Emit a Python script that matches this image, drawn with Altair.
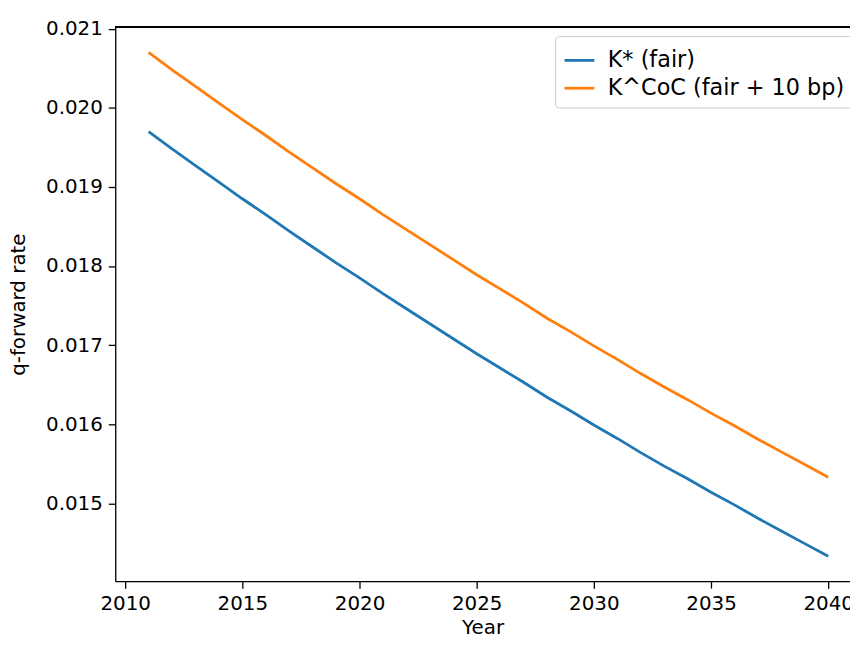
import altair as alt
import pandas as pd

years = list(range(2011, 2041))
k_fair = [0.01970, 0.01948, 0.01927, 0.01906, 0.01885, 0.01865, 0.01844, 0.01824,
          0.01804, 0.01785, 0.01765, 0.01746, 0.01727, 0.01708, 0.01689, 0.01671,
          0.01653, 0.01634, 0.01617, 0.01599, 0.01582, 0.01564, 0.01547, 0.01531,
          0.01514, 0.01498, 0.01481, 0.01465, 0.01449, 0.01433]
k_coc = [0.02070, 0.02048, 0.02027, 0.02006, 0.01985, 0.01965, 0.01944, 0.01924,
         0.01904, 0.01885, 0.01865, 0.01846, 0.01827, 0.01808, 0.01789, 0.01771,
         0.01753, 0.01734, 0.01717, 0.01699, 0.01682, 0.01664, 0.01647, 0.01631,
         0.01614, 0.01598, 0.01581, 0.01565, 0.01549, 0.01533]
series_names = ["K* (fair)", "K^CoC (fair + 10 bp)"]
series_colors = ["#1f77b4", "#ff7f0e"]
x_ticks = [2010, 2015, 2020, 2025, 2030, 2035, 2040]
y_ticks = [0.015, 0.016, 0.017, 0.018, 0.019, 0.020, 0.021]

df = pd.DataFrame({
    "Year": years * 2,
    "rate": k_fair + k_coc,
    "series": [series_names[0]] * len(years) + [series_names[1]] * len(years),
})

W, H = 740, 558
FONT = "DejaVu Sans"
FS = 20

lines = alt.Chart(df).mark_line(strokeWidth=2.8, clip=True).encode(
    x=alt.X("Year:Q",
            scale=alt.Scale(domain=[2009.576, 2040.93], nice=False, zero=False),
            axis=alt.Axis(values=x_ticks, format="d", title="Year", grid=False,
                          tickSize=7, tickWidth=1.3, domainWidth=1.3,
                          domainColor="black", tickColor="black",
                          labelFontSize=FS, titleFontSize=FS, labelFont=FONT, titleFont=FONT,
                          labelColor="black", titleColor="black", titleFontWeight="normal",
                          labelPadding=6, titlePadding=4)),
    y=alt.Y("rate:Q",
            scale=alt.Scale(domain=[0.014015, 0.02102], nice=False, zero=False),
            axis=alt.Axis(values=y_ticks, format=".3f", title="q-forward rate", grid=False,
                          tickSize=7, tickWidth=1.3, domainWidth=1.3,
                          domainColor="black", tickColor="black",
                          labelFontSize=FS, titleFontSize=FS, labelFont=FONT, titleFont=FONT,
                          labelColor="black", titleColor="black", titleFontWeight="normal",
                          labelPadding=6, titlePadding=17)),
    color=alt.Color("series:N",
                    scale=alt.Scale(domain=series_names, range=series_colors),
                    legend=alt.Legend(title=None, orient="none", legendX=443, legendY=9,
                                      symbolType="stroke", symbolSize=900,
                                      symbolStrokeWidth=2.8, labelFontSize=22.5,
                                      labelFont=FONT, labelColor="black",
                                      fillColor="white", strokeColor="#cccccc",
                                      cornerRadius=4, padding=8, rowPadding=-8,
                                      labelOffset=12, labelLimit=400)),
)

top_spine = alt.Chart(df).mark_rule(color="black", strokeWidth=1.3).encode(
    x=alt.value(0), x2=alt.value(W), y=alt.value(0)
)

chart = alt.layer(lines, top_spine).properties(
    width=W, height=H,
    autosize=alt.AutoSizeParams(type="none"),
    padding={"left": 108, "top": 17, "right": 0, "bottom": 62},
).configure_view(stroke=None).configure(background="white")

chart.save("out.html", embed_options={"renderer": "svg", "actions": False})
